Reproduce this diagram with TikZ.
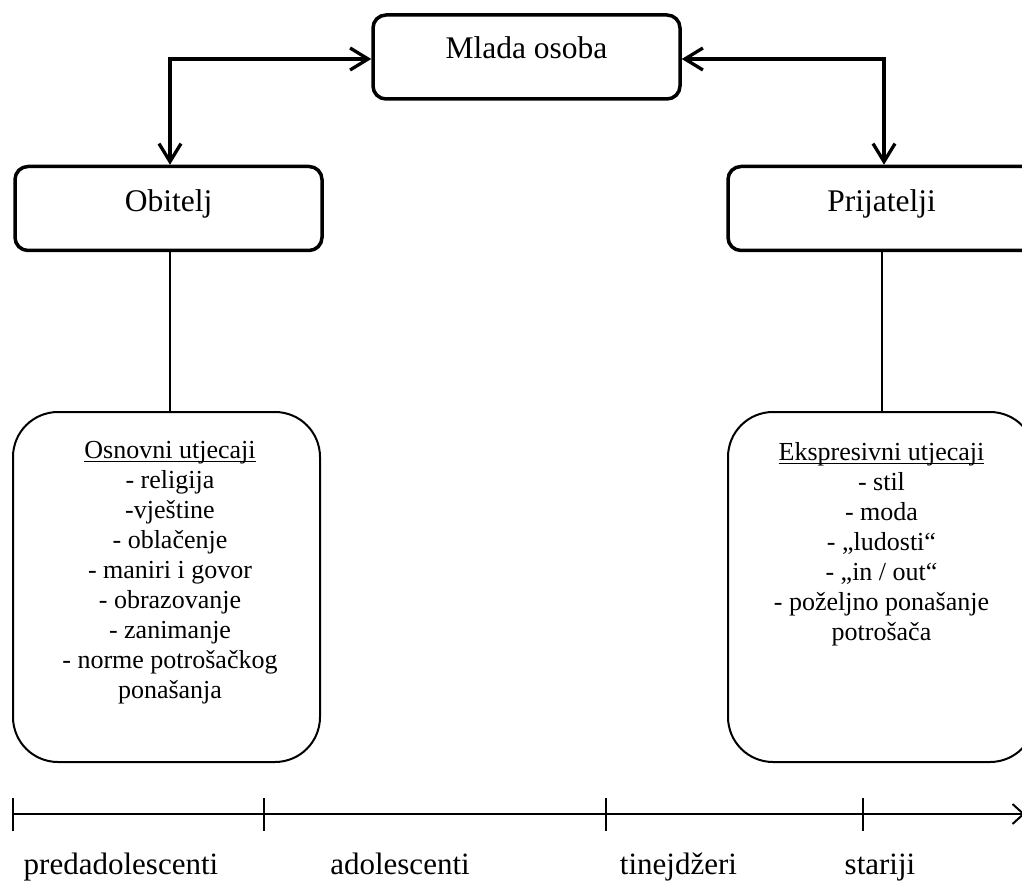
\documentclass[tikz,border=0pt]{standalone}
\usepackage{fontspec}
\setmainfont{Liberation Serif}
\usetikzlibrary{arrows.meta}
\newcommand\ulinex[1]{\setbox0\hbox{#1}\rlap{\rule[-4pt]{\wd0}{1.3pt}}\box0}
\begin{document}
\begin{tikzpicture}[x=1pt,y=-1pt,
  topbox/.style={draw, line width=3.5pt, rounded corners=13pt, minimum width=307pt, minimum height=84pt, inner sep=0pt, font=\fontsize{31.5}{36}\selectfont},
  listbox/.style={draw, line width=2pt, rounded corners=45pt, minimum width=307pt, minimum height=350pt, inner sep=0pt},
  listtext/.style={align=center, inner sep=0pt, anchor=north, font=\fontsize{26}{30}\selectfont},
  link/.style={line width=3.3pt, {Straight Barb[length=18pt,width=22pt]}-{Straight Barb[length=18pt,width=22pt]}},
  stem/.style={line width=2pt},
  axis/.style={line width=2pt},
  tickmark/.style={line width=2pt},
  age/.style={anchor=base, inner sep=0pt, font=\fontsize{31}{36}\selectfont}]
\useasboundingbox (0,0) rectangle (1022,882);
\fill[white] (0,0) rectangle (1022,882);
\clip (0,0) rectangle (1022,882);

% top boxes
\node[topbox, text height=24pt, text depth=20pt] (m) at (526.5,57) {Mlada osoba};
\node[topbox, text height=25pt, text depth=18pt] (o) at (168.5,208.5) {Obitelj};
\node[topbox, text height=25pt, text depth=18pt] (p) at (881.5,208.5) {Prijatelji};

% arrows
\draw[link] ([yshift=-2pt]m.west) -| ([xshift=1.5pt]o.north);
\draw[link] ([yshift=-2pt]m.east) -| ([xshift=2.5pt]p.north);

% list boxes
\node[listbox] (ob) at (166.5,587) {};
\node[listbox] (pb) at (881.5,587) {};
\node[listtext] (obt) at (170,441) {\ulinex{Osnovni utjecaji}\\- religija\\-vještine\\- oblačenje\\- maniri i govor\\- obrazovanje\\- zanimanje\\- norme potrošačkog\\ponašanja};
\node[listtext] (pbt) at (881.5,442) {\ulinex{Ekspresivni utjecaji}\\- stil\\- moda\\- „ludosti“\\- „in / out“\\- poželjno ponašanje\\potrošača};

% stems
\draw[stem] ([xshift=1.5pt]o.south) -- ([xshift=1.5pt]o.south |- ob.north);
\draw[stem] (p.south) -- (p.south |- pb.north);

% timeline
\coordinate (a0) at (13,814);
\coordinate (a1) at (264,814);
\coordinate (a2) at (606,814);
\coordinate (a3) at (863,814);
\coordinate (aend) at (1025,814);
\draw[axis, -{Straight Barb[length=11pt,width=20pt]}] (a0) -- (aend);
\foreach \k in {a0,a1,a2,a3} \draw[tickmark] ([yshift=16pt]\k) -- ([yshift=-17pt]\k);

\node[age] (l1) at (121,874) {predadolescenti};
\node[age] (l2) at (400,874) {adolescenti};
\node[age] (l3) at (678.5,874) {tinejdžeri};
\node[age] (l4) at (880,874) {stariji};
\end{tikzpicture}
\end{document}
